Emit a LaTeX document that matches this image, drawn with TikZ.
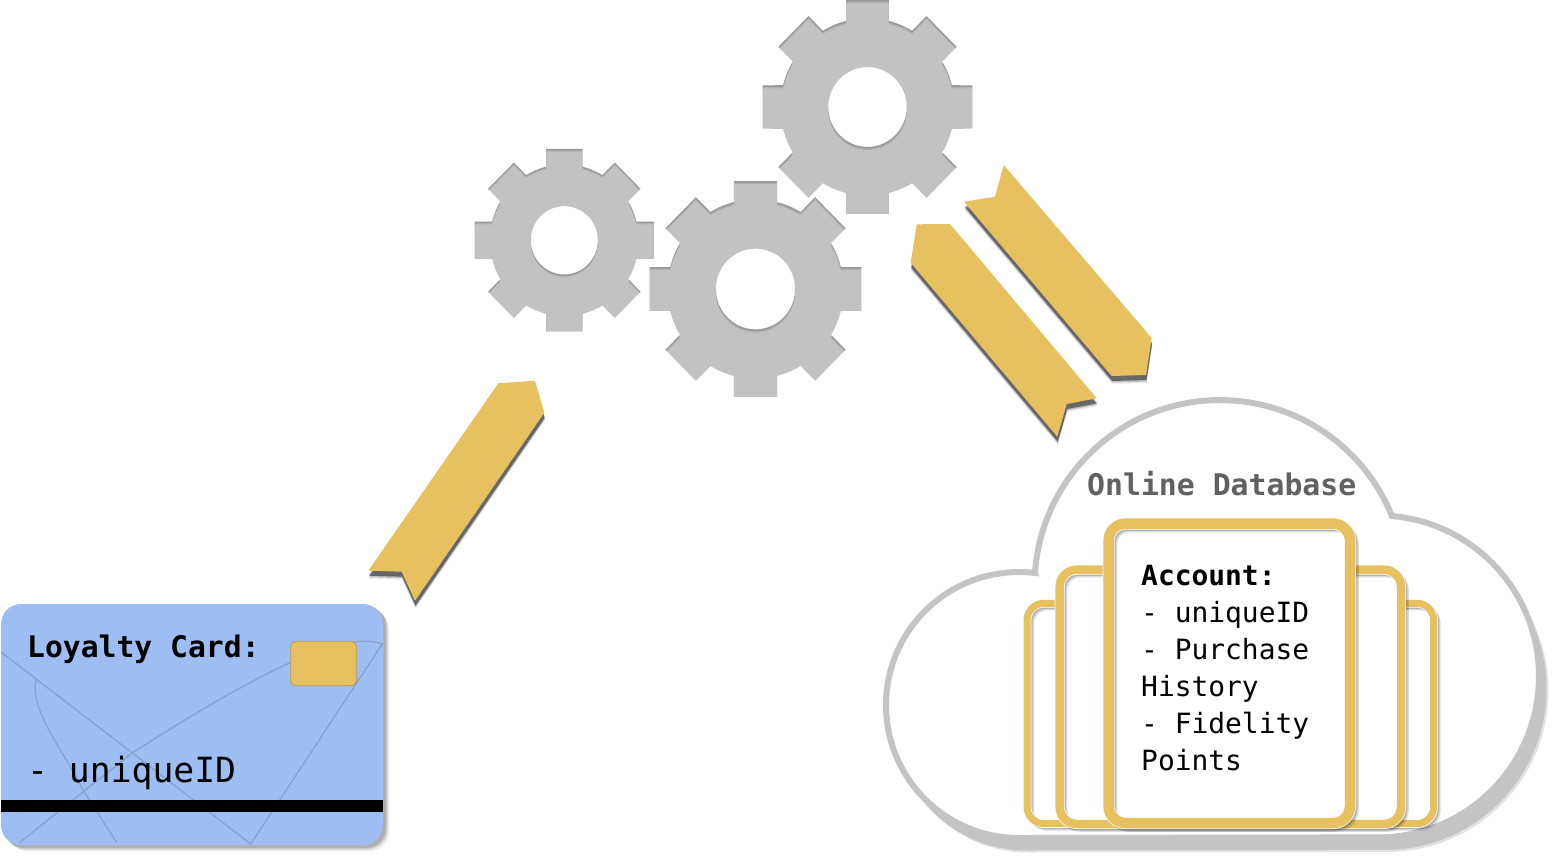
\documentclass[tikz,border=0pt]{standalone}
\usepackage{fontspec}
\setmonofont{DejaVu Sans Mono}
\usetikzlibrary{shadows}

\definecolor{tagyellow}{HTML}{E7C060}
\definecolor{cardblue}{HTML}{9EBEF3}
\definecolor{cardline}{HTML}{85A3CE}
\definecolor{cloudgray}{HTML}{C4C4C4}
\definecolor{gearface}{HTML}{C2C2C2}

\tikzset{
  tag/.style={fill=tagyellow,
    drop shadow={shadow xshift=0.5pt,shadow yshift=-8pt,fill=black,opacity=.08},
    drop shadow={shadow xshift=0.5pt,shadow yshift=-6.5pt,fill=black,opacity=.2},
    drop shadow={shadow xshift=0.5pt,shadow yshift=-5pt,fill=black,opacity=.45}},
  carddeco/.style={draw=cardline,line width=1.3},
  label/.style={font=\ttfamily,inner sep=0pt,anchor=base west}
}

% one gear around (0,#1), the shade is what the moved gear leaves free
\newcommand{\gearpath}[1]{(0,#1) ++(-14.2:87.7) \foreach \a in {0,45,...,315}{
    -- ([shift={(0,#1)}]\a-14.2:87.7) -- ([shift={(0,#1)}]\a-11.5:107.7)
    -- ([shift={(0,#1)}]\a+11.5:107.7) -- ([shift={(0,#1)}]\a+14.2:87.7)
    arc[start angle=\a+14.2,end angle=\a+30.8,radius=87.7]} -- cycle (0,#1) circle (39.5)}
\newcommand{\gear}[3]{
  \begin{scope}[shift={(#1,#2)},xscale=#3*0.993,yscale=#3*1.012,even odd rule]
    \fill[gearface] \gearpath{0};
    \begin{scope}
      \clip \gearpath{0};
      \fill[black,opacity=.1] (-130,-130) rectangle (130,130) \gearpath{3};
      \fill[black,opacity=.12] (-130,-130) rectangle (130,130) \gearpath{1.5};
    \end{scope}
  \end{scope}
}
% x1 y1 x2 y2 line width
\newcommand{\account}[5]{
  \fill[white,rounded corners=17pt] (#1,#2) rectangle (#3,#4);
  \draw[black,opacity=.14,line width=#5,rounded corners=17pt,xshift=3.5pt,yshift=-3.5pt] (#1,#2) rectangle (#3,#4);
  \draw[black,opacity=.18,line width=#5,rounded corners=17pt,xshift=2pt,yshift=-2pt] (#1,#2) rectangle (#3,#4);
  \draw[white,line width=#5+1.5,rounded corners=17pt] (#1,#2) rectangle (#3,#4);
  \draw[tagyellow,line width=#5,rounded corners=17pt] (#1,#2) rectangle (#3,#4);
}
\newcommand{\cloudpath}{(1019,838) arc[start angle=90,end angle=277,radius=133]
  -- (1035,572) arc[start angle=184.2,end angle=337.7,radius=185.5]
  -- (1392,516) arc[start angle=-85,end angle=90,radius=161] -- cycle}

\begin{document}
\begin{tikzpicture}[x=1pt,y=-1pt]
  \useasboundingbox (0,0) rectangle (1554,857);

  % Gears
  \gear{867.5}{107}{1}
  \gear{755.5}{289}{1.01}
  \gear{564.3}{240.3}{0.855}

  % Cloud
  \fill[cloudgray,opacity=.5,xshift=9.5pt,yshift=-14.5pt] \cloudpath;
  \fill[cloudgray,xshift=7.5pt,yshift=-12.5pt] \cloudpath;
  \draw[cloudgray,fill=white,line width=6,miter limit=3] \cloudpath;
  \node[label,font=\ttfamily\bfseries\fontsize{29.8}{30}\selectfont,text=black!62] (dbtitle) at (1087,495) {Online Database};

  % Account cards
  \account{1027}{603.3}{1433.7}{823.7}{7}
  \account{1059.7}{569.7}{1401}{824}{8.5}
  \account{1108.6}{523.6}{1350}{823}{10.5}
  \node[font=\ttfamily\fontsize{27.9}{37}\selectfont,inner sep=0pt,anchor=north west,align=left] (account) at (1141,565)
    {\textbf{Account:}\\- uniqueID\\- Purchase\\History\\- Fidelity\\Points};

  % Arrows
  \path[tag] (498.3,383.3) -- (535,380.7) -- (544.3,412.7) -- (415,600.7) -- (401.7,571.7) -- (368.3,570.7) -- cycle;
  \path[tag] (916.7,224.3) -- (950,224) -- (1096.7,398.3) -- (1066.7,404) -- (1057.3,436.7) -- (910.7,262.7) -- cycle;
  \path[tag] (1003.7,165) -- (1151.7,338) -- (1146,375) -- (1111.7,376) -- (964,201.7) -- (995,196.7) -- cycle;

  % Loyalty card
  \fill[black,opacity=.08,rounded corners=20pt] (7,609) rectangle (389,851);
  \fill[black,opacity=.12,rounded corners=20pt] (5.5,607.5) rectangle (387.5,849.5);
  \fill[black,opacity=.15,rounded corners=20pt] (4,606) rectangle (386,848);
  \fill[cardblue,rounded corners=20pt] (1,604) rectangle (383,845);
  \draw[carddeco] (1,652) -- (250.7,844) -- (382.3,644) .. controls (345,630) and (265,668) .. (132,753) -- (19,843);
  \draw[carddeco] (36,680) .. controls (30,710) and (60,745) .. (83,790) -- (117,843);
  \fill[black] (1,800) rectangle (383,812);
  \draw[tagyellow!80!black,fill=tagyellow,line width=.8,rounded corners=5pt] (290.7,641.3) rectangle (356.3,685.7);
  \node[label,font=\ttfamily\bfseries\fontsize{29.7}{30}\selectfont] (cardtitle) at (27,657) {Loyalty Card:};
  \node[label,font=\ttfamily\fontsize{34.7}{35}\selectfont] (cardid) at (27,782) {- uniqueID};
\end{tikzpicture}
\end{document}
